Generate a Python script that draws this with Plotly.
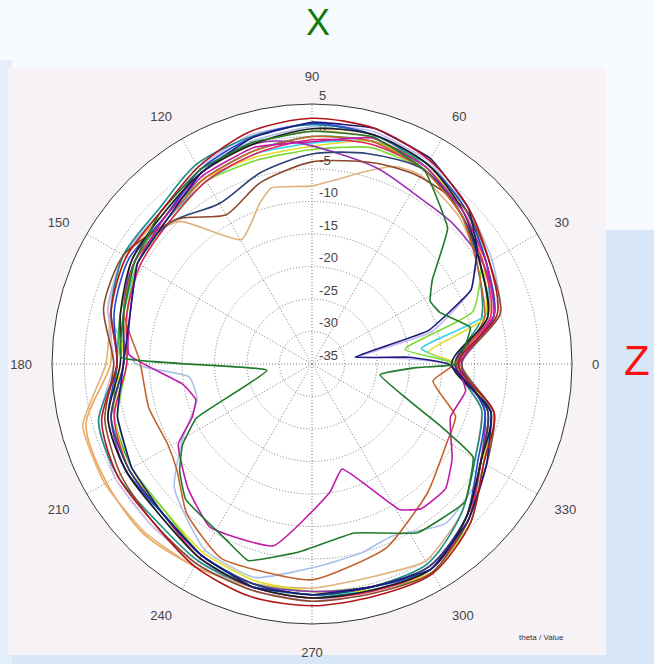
import plotly.graph_objects as go

# ---------------- data (dB values) ----------------
THETA15 = [0, 15, 30, 45, 60, 75, 90, 105, 120, 135, 150, 165, 180,
           195, 210, 225, 240, 255, 270, 285, 300, 315, 330, 345, 360]

darkred_r = [-12.5, -5.5, -3.5, -1, 1.2, 2.5, 2.8, 2, 0, -2, -2, -3, -5,
             -1.5, -0.5, -0.5, 1, 2, 2.2, 2, 2.2, -0.5, -4.5, -6, -12.5]
black_r = [-13.5, -7, -5, -2, 0.5, 1.5, 1.2, 0, -1, -2.5, -3, -4.5, -5.5,
           -2.5, -2, -2, -0.5, 0.5, 1, 1, 1.5, -1.5, -5, -6.5, -13.5]
blue_r = [-12, -6, -4, -1.5, 0.5, 1.5, 2, 1, -0.5, -3, -2.5, -3.5, -5,
          -2.5, -2, -2.5, -1, 0, 0.5, 0.5, 1.5, -1.5, -5.5, -7.5, -12]
crimson_r = [-12.8, -6.5, -4.5, -2.5, -0.5, 0, -0.5, -1.5, -2.5, -4, -4.5, -5.5, -6.5,
             -3.5, -2.5, -2.5, -0.5, 0.5, 1, 1.2, 1.5, -1, -5, -7, -12.8]
teal_r = [-13, -8, -5.5, -2.5, 0, 1.5, 1.8, 1.2, 0.5, -1.5, -1.5, -3, -5,
          -1, -0.5, -1, 0, 0.5, 1, 0.5, 0.5, -2.5, -6, -8, -13]
sandy_r = [-12.5, -6, -4, -2, 0, 1, 0.8, 0, -1, -2.5, -2, -3, -4,
           1, 1.5, 1.8, 1, 0.5, 0.5, 0.5, 1, -1.5, -4.5, -6.5, -12.5]
darkslate_r = [-13, -7, -5, -2.5, -0.5, -1.5, -2.7, -4.5, -6.5, -4.2, -3.5, -5, -6,
               -3, -2.5, -2.5, -1, 0, 0.5, 0.5, 1, -1.5, -5, -7, -13]
green2_r = [-12, -6, -4, -1.5, 0.5, 0.5, 0, -1, -2, -3, -3.5, -4.5, -5,
            -3.5, -3, -3, -1, 0, 0.5, 1, 2, -1, -5, -7, -12]

navy_t = [0, 4, 9, 16, 25, 35, 45, 60, 75, 90, 105, 120, 135, 150, 165, 180,
          195, 210, 225, 240, 255, 270, 285, 300, 315, 330, 345, 360]
navy_r = [-14, -20, -28.3, -16.4, -8, -4, -1, 1.5, 2.5, 2.2, 1, -1, -3.5, -4, -6, -6,
          -4, -3, -2.5, -1, 0.5, 0.5, 0.5, 1.5, -1, -4, -6.5, -14]

darkgreen_t = [0, 13, 22, 28, 35, 45, 60, 75, 90, 105, 120, 135, 150, 165, 178, 188,
               205, 212, 219, 227, 244, 252, 266, 284, 302, 318, 330, 334, 351, 358, 360]
darkgreen_r = [-12.7, -10, -13.8, -14.4, -12.4, -5.5, -0.5, 1.2, 0.8, 0.3, -0.5, -2, -3.5, -5, -5.6, -28,
               -15.4, -11.5, -8.8, -6.5, -4.9, -3.2, -6, -8.2, -4.4, -3.3, -6.4, -12.7, -24.4, -19, -12.7]

magenta_t = [0, 15, 30, 45, 60, 75, 90, 105, 120, 135, 150, 165, 177, 189, 197, 204,
             211, 225, 238, 258, 278, 286, 301, 307, 317, 326, 339, 350, 360]
magenta_r = [-12.4, -6, -4, -2, 0, 1, -0.8, -0.5, -1.5, -3, -4, -6, -6.8, -14.9, -16.3, -14.8,
             -11, -8, -5.4, -6.4, -15.1, -18.2, -8.9, -7.1, -6.9, -9, -12.2, -11, -12.4]

violet_t = [0, 15, 30, 45, 58, 72, 95, 105, 120, 135, 150, 165, 180,
            195, 210, 225, 240, 255, 270, 285, 300, 315, 330, 345, 360]
violet_r = [-12, -6, -4.5, -4.4, -4.5, -3.2, -0.7, 0, -1, -3, -3, -5, -6,
            -3, -2, -2.5, -1, 0, 0, 0.5, 1, -1.5, -5, -7.5, -12]

tan_t = [0, 15, 30, 45, 60, 67, 74, 90, 103, 108, 119.5, 133, 150, 165, 180,
         195, 210, 225, 240, 255, 270, 285, 300, 315, 330, 345, 360]
tan_r = [-13, -6.5, -5, -3, -1.5, -2, -4.1, -7.6, -7.2, -9, -13, -5, -1.5, -3, -3.3,
         1.5, 1.8, 1.5, 1, 0, -0.5, -1, 0, -2.5, -6, -8, -13]

brown_t = [0, 15, 30, 45, 61, 72.6, 90, 106, 120, 132.5, 150, 165, 180,
           195, 210, 225, 240, 255, 270, 285, 300, 315, 330, 345, 360]
brown_r = [-12, -5, -3.5, -1.5, -1.8, -2.6, -3.9, -6, -8.5, -4.7, -1.5, -1.8, -4.5,
           -2, -1, -0.5, 0.5, 1, 1.5, 1.5, 2, -1, -4, -6, -12]

sienna_t = [0, 15, 30, 45, 60, 75, 90, 105, 120, 135, 150, 165, 179,
            195, 209, 218, 230, 245, 270, 292, 312, 330, 340, 352, 360]
sienna_r = [-13, -7.5, -5.5, -2.5, -0.5, 0.5, 0, -1, -2, -3.5, -3.5, -5, -8.5,
            -9, -9.6, -8.6, -5, -2, -1.8, -4.5, -8.4, -11, -11.5, -16.2, -13]

lime_t = [0, 9, 18, 30, 45, 60, 75, 90, 105, 120, 135, 150, 165, 180,
          195, 210, 225, 240, 255, 270, 285, 300, 315, 330, 345, 360]
lime_r = [-13, -20.5, -9, -5, -2.5, -0.5, -0.5, -2, -2.5, -2.5, -4, -4, -5.5, -6.5,
          -4, -3, -3, -1, 0, 0, 0.5, 1.5, -1.5, -5, -7.5, -13]

yellow_t = [0, 6, 15, 30, 45, 60, 75, 90, 105, 120, 135, 150, 165, 180,
            195, 210, 225, 240, 255, 270, 285, 300, 315, 330, 345, 360]
yellow_r = [-12.5, -17, -7.5, -4.5, -1.5, 0, 0.5, -1.5, -2, -2, -3.5, -4, -5.5, -5.5,
            -3.5, -2.5, -3, -1.5, -0.5, 0, 1, 2, -0.5, -4.5, -7, -12.5]

cyan_t = [0, 8, 16, 30, 45, 60, 75, 90, 105, 120, 135, 150, 165, 180,
          195, 210, 225, 240, 255, 270, 285, 300, 315, 330, 345, 360]
cyan_r = [-13, -18, -7, -4, -2, 0, 0.5, -1, -1.5, -2.5, -3.5, -4, -5, -6,
          -3, -2.5, -2, -0.5, 0.5, 0.5, 1, 2, -0.5, -4.5, -6.5, -13]

lavender_t = [0, 3, 9, 15, 25, 35, 45, 60, 75, 90, 105, 120, 135, 150, 165, 180,
              195, 210, 225, 240, 255, 270, 285, 300, 315, 330, 345, 360]
lavender_r = [-14, -20, -27.5, -16, -8, -4, -1.5, 1, 2, 2, 1.5, 0, -2, -1.5, -2.5, -4.5,
              -1, 0, 0, 0.5, 1, 1.5, 1, 1.5, -1, -4.5, -7, -14]

lightblue_t = [0, 15, 30, 45, 60, 75, 90, 105, 120, 135, 150, 165, 180, 186, 197,
               210, 222, 240, 255, 273, 285, 295, 310, 330, 345, 360]
lightblue_r = [-12, -5, -3, -1, 0.5, 1.5, 1.5, 0.5, -0.5, -2, -1.5, -2.5, -8, -16, -16.5,
               -12, -6.5, -2, -1, -4, -5, -5.8, -3, -4, -6, -12]

# (name, theta, r, colour, line shape, smoothing)
series = [
    ("sandy", THETA15, sandy_r, "#f0a552", "spline", 0.8),
    ("tan", tan_t, tan_r, "#e2b27c", "spline", 0.5),
    ("lightblue", lightblue_t, lightblue_r, "#a9c0e8", "spline", 0.5),
    ("lavender", lavender_t, lavender_r, "#c9b8ee", "spline", 0.4),
    ("teal", THETA15, teal_r, "#178f8a", "spline", 0.8),
    ("green2", THETA15, green2_r, "#3aa64e", "spline", 0.8),
    ("cyan", cyan_t, cyan_r, "#2fd3ea", "spline", 0.5),
    ("yellow", yellow_t, yellow_r, "#e5dd2a", "spline", 0.5),
    ("lime", lime_t, lime_r, "#7edc3a", "spline", 0.5),
    ("violet", violet_t, violet_r, "#9b32b4", "spline", 0.8),
    ("crimson", THETA15, crimson_r, "#e2245f", "spline", 0.8),
    ("blue", THETA15, blue_r, "#2447d2", "spline", 0.8),
    ("darkslate", THETA15, darkslate_r, "#2c4274", "spline", 0.8),
    ("brown", brown_t, brown_r, "#8b4a2b", "spline", 0.7),
    ("sienna", sienna_t, sienna_r, "#c4632e", "spline", 0.5),
    ("black", THETA15, black_r, "#1e1e1e", "spline", 0.8),
    ("magenta", magenta_t, magenta_r, "#c21aa8", "spline", 0.4),
    ("navy", navy_t, navy_r, "#1b1b7c", "spline", 0.3),
    ("darkgreen", darkgreen_t, darkgreen_r, "#1f7a2a", "spline", 0.3),
    ("darkred", THETA15, darkred_r, "#b3161a", "spline", 0.8),
]

ANG_TICKS = [0, 30, 60, 90, 120, 150, 180, 210, 240, 270, 300, 330]
ANG_LABELS = [str(a) for a in ANG_TICKS]
RAD_TICKS = [-35, -30, -25, -20, -15, -10, -5, 0, 5]
RAD_LABELS = [str(v) for v in RAD_TICKS]

# ---------------- figure ----------------
fig = go.Figure()
for name, th, rr, col, shape, sm in series:
    fig.add_trace(go.Scatterpolar(theta=th, r=rr, mode="lines", name=name,
                                  line=dict(color=col, width=1.6, shape=shape, smoothing=sm),
                                  showlegend=False, hoverinfo="skip"))

W, H = 654, 664


def px(x):
    return x / W


def py(y):
    return 1 - y / H


cx, cy, R = 312, 364, 260

fig.update_layout(
    width=W, height=H,
    margin=dict(l=0, r=0, t=0, b=0),
    paper_bgcolor="#f7fafe",
    font=dict(family="Liberation Sans, Arial, sans-serif", color="#444"),
    polar=dict(
        domain=dict(x=[px(cx - R), px(cx + R)], y=[py(cy + R), py(cy - R)]),
        bgcolor="white",
        angularaxis=dict(
            rotation=0, direction="counterclockwise",
            tickmode="array", tickvals=ANG_TICKS, ticktext=ANG_LABELS,
            showline=True, linecolor="#333", linewidth=1,
            showgrid=True, gridcolor="#7a7a7a", griddash="1px,2px", gridwidth=1,
            ticks="outside", ticklen=17, tickcolor="rgba(0,0,0,0)",
            tickfont=dict(size=13, color="#444"), layer="below traces",
        ),
        radialaxis=dict(
            range=[-35, 5], tickmode="array", tickvals=RAD_TICKS,
            ticktext=[t + "<br> " for t in RAD_LABELS],
            angle=90, tickangle=90, side="clockwise",
            showline=False, ticks="outside", ticklen=4, tickcolor="rgba(0,0,0,0)",
            showgrid=True, gridcolor="#7a7a7a", griddash="1px,2px", gridwidth=1,
            tickfont=dict(size=13, color="#444"), layer="below traces",
        ),
    ),
    shapes=[
        dict(type="rect", xref="paper", yref="paper",
             x0=px(600), x1=1.02, y0=-0.02, y1=py(230),
             fillcolor="#d8e7f8", line=dict(width=0), layer="below"),
        dict(type="rect", xref="paper", yref="paper",
             x0=-0.02, x1=1.02, y0=-0.02, y1=py(650),
             fillcolor="#d8e7f8", line=dict(width=0), layer="below"),
        dict(type="rect", xref="paper", yref="paper",
             x0=-0.02, x1=px(12), y0=-0.02, y1=py(60),
             fillcolor="#e4eefa", line=dict(width=0), layer="below"),
        dict(type="rect", xref="paper", yref="paper",
             x0=px(8), x1=px(606), y0=py(655), y1=py(68),
             fillcolor="#f6f2f5", line=dict(width=0), layer="below"),
    ],
    annotations=[
        dict(text="X", x=px(318), y=py(23), xref="paper", yref="paper", showarrow=False,
             font=dict(size=36, color="#137a13", family="Liberation Sans, Arial, sans-serif"),
             xanchor="center", yanchor="middle", borderpad=0),
        dict(text="Z", x=px(637), y=py(360), xref="paper", yref="paper", showarrow=False,
             font=dict(size=42, color="#ff1010", family="Liberation Sans, Arial, sans-serif"),
             xanchor="center", yanchor="middle", borderpad=0),
        dict(text="theta / Value", x=px(541), y=py(637), xref="paper", yref="paper",
             showarrow=False, font=dict(size=8, color="#333"),
             xanchor="center", yanchor="middle"),
    ],
)

fig.write_html("out.html", config=dict(displayModeBar=False),
               post_script="document.body.style.margin='0';")
